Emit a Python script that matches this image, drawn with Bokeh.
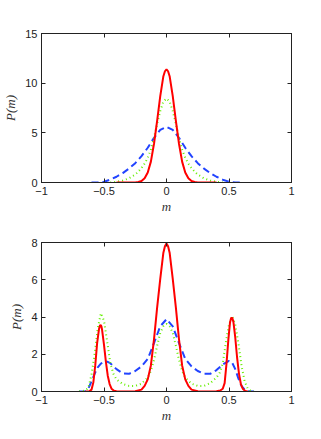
from bokeh.plotting import figure
from bokeh.layouts import column
from bokeh.models import LinearAxis, FixedTicker, Range1d, CustomLabelingPolicy
from bokeh.embed import file_html
from bokeh.resources import INLINE

# ---------------- data: top panel ----------------
top_red_x = [-0.4, -0.3, -0.25, -0.225, -0.2, -0.175, -0.15, -0.125, -0.1, -0.075, -0.05, -0.025, -0.0125, 0.0,
             0.0125, 0.025, 0.05, 0.075, 0.1, 0.125, 0.15, 0.175, 0.2, 0.225, 0.25, 0.3, 0.4]
top_red_y = [0.0, 0.0, 0.01, 0.05, 0.15, 0.42, 1.0, 2.1, 3.9, 6.2, 8.7, 10.7, 11.2, 11.4,
             11.2, 10.7, 8.7, 6.2, 3.9, 2.1, 1.0, 0.42, 0.15, 0.05, 0.01, 0.0, 0.0]

top_green_x = [-0.45, -0.4, -0.35, -0.3, -0.25, -0.225, -0.2, -0.175, -0.15, -0.125, -0.1, -0.075, -0.05, -0.025, 0.0,
               0.025, 0.05, 0.075, 0.1, 0.125, 0.15, 0.175, 0.2, 0.225, 0.25, 0.3, 0.35, 0.4, 0.45]
top_green_y = [0.0, 0.07, 0.2, 0.42, 0.8, 1.1, 1.45, 1.9, 2.5, 3.3, 4.5, 5.9, 7.2, 8.15, 8.45,
               8.15, 7.2, 5.9, 4.5, 3.3, 2.5, 1.9, 1.45, 1.1, 0.8, 0.42, 0.2, 0.07, 0.0]

top_blue_x = [-0.6, -0.55, -0.5, -0.45, -0.4, -0.35, -0.3, -0.25, -0.2, -0.15, -0.1, -0.05, 0.0,
              0.05, 0.1, 0.15, 0.2, 0.25, 0.3, 0.35, 0.4, 0.45, 0.5, 0.55, 0.6]
top_blue_y = [0.0, 0.01, 0.08, 0.28, 0.58, 0.95, 1.4, 1.95, 2.65, 3.5, 4.5, 5.3, 5.6,
              5.3, 4.5, 3.5, 2.65, 1.95, 1.4, 0.95, 0.58, 0.28, 0.08, 0.01, 0.0]

# ---------------- data: bottom panel ----------------
bot_red_x = [-0.65, -0.62, -0.6, -0.585, -0.57, -0.555, -0.54, -0.533, -0.527, -0.521, -0.515, -0.5, -0.485,
             -0.47, -0.455, -0.44, -0.42, -0.4, -0.35, -0.3, -0.25, -0.2, -0.175, -0.15, -0.125, -0.1, -0.075,
             -0.05, -0.025, -0.0125, 0.0, 0.0125, 0.025, 0.05, 0.075, 0.1, 0.125, 0.15, 0.175, 0.2, 0.25, 0.3,
             0.35, 0.4, 0.43, 0.45, 0.465, 0.48, 0.495, 0.508, 0.516, 0.522, 0.528, 0.536, 0.55, 0.565, 0.58,
             0.595, 0.61, 0.63, 0.65]
bot_red_y = [0.0, 0.0, 0.1, 0.5, 1.4, 2.6, 3.35, 3.53, 3.57, 3.5, 3.3, 2.5, 1.6,
             0.85, 0.4, 0.15, 0.04, 0.01, 0.0, 0.0, 0.01, 0.1, 0.3, 0.65, 1.4, 2.8, 4.5,
             6.05, 7.45, 7.8, 7.95, 7.8, 7.45, 6.05, 4.5, 2.8, 1.4, 0.65, 0.3, 0.1, 0.01, 0.0,
             0.0, 0.01, 0.05, 0.15, 0.45, 1.5, 2.8, 3.7, 3.92, 3.97, 3.92, 3.7, 2.9, 1.8, 0.95,
             0.4, 0.15, 0.03, 0.0]

bot_green_x = [-0.7, -0.65, -0.625, -0.6, -0.575, -0.55, -0.525, -0.5, -0.475, -0.45, -0.425, -0.4, -0.35,
               -0.3, -0.25, -0.2, -0.15, -0.125, -0.1, -0.075, -0.05, -0.025, 0.0,
               0.025, 0.05, 0.075, 0.1, 0.125, 0.15, 0.2, 0.25, 0.3, 0.35, 0.4, 0.425, 0.45, 0.475,
               0.5, 0.525, 0.55, 0.575, 0.6, 0.625, 0.65, 0.675, 0.7]
bot_green_y = [0.0, 0.05, 0.2, 0.9, 2.0, 3.4, 4.2, 3.8, 2.7, 1.55, 0.95, 0.65, 0.4,
               0.3, 0.3, 0.42, 0.75, 1.1, 1.7, 2.45, 3.15, 3.5, 3.63,
               3.5, 3.15, 2.45, 1.7, 1.1, 0.75, 0.42, 0.3, 0.3, 0.45, 0.75, 1.0, 1.5, 2.65,
               3.6, 4.05, 3.6, 2.6, 1.4, 0.55, 0.15, 0.03, 0.0]

bot_blue_x = [-0.7, -0.65, -0.625, -0.6, -0.575, -0.55, -0.525, -0.5, -0.475, -0.45, -0.4, -0.35, -0.3,
              -0.25, -0.2, -0.15, -0.1, -0.05, 0.0,
              0.05, 0.1, 0.15, 0.2, 0.25, 0.3, 0.35, 0.4, 0.45, 0.5, 0.525, 0.55, 0.575, 0.6, 0.625, 0.65, 0.7]
bot_blue_y = [0.0, 0.02, 0.15, 0.55, 0.95, 1.3, 1.5, 1.58, 1.6, 1.52, 1.2, 0.97, 0.95,
              1.1, 1.35, 1.75, 2.6, 3.5, 3.88,
              3.5, 2.6, 1.75, 1.35, 1.1, 0.95, 0.95, 1.15, 1.45, 1.65, 1.55, 1.2, 0.7, 0.3, 0.1, 0.02, 0.0]

x_ticks = [-1, -0.5, 0, 0.5, 1]
top_y_ticks = [0, 5, 10, 15]
bot_y_ticks = [0, 2, 4, 6, 8]

RED = "#ff0000"
GREEN = "#66ee00"
BLUE = "#2244ff"
AXIS_COLOR = "#222222"
TICK_FONT = "Liberation Sans"
LABEL_FONT = "Liberation Serif"


def style_axis(ax, ticks, show_labels=True):
    ax.ticker = FixedTicker(ticks=ticks)
    ax.major_tick_in = 4
    ax.major_tick_out = 0
    ax.minor_tick_line_color = None
    ax.axis_line_color = AXIS_COLOR
    ax.major_tick_line_color = AXIS_COLOR
    ax.major_label_text_font = TICK_FONT
    ax.major_label_text_font_size = "11px"
    ax.major_label_text_color = AXIS_COLOR
    ax.major_label_standoff = 4
    if not show_labels:
        ax.major_label_policy = CustomLabelingPolicy(code="if (false) { yield 0 }")
        ax.major_label_standoff = 0


def make_panel(height, border_top, border_bottom, yticks, ymax, rx, ry, gx, gy, bx, by):
    p = figure(width=321, height=height, output_backend="svg", toolbar_location=None,
               frame_width=250, frame_height=149,
               x_range=Range1d(-1, 1), y_range=Range1d(0, ymax),
               min_border_left=41, min_border_right=30,
               min_border_top=border_top, min_border_bottom=border_bottom)
    p.grid.visible = False
    p.outline_line_color = AXIS_COLOR
    p.background_fill_color = "white"
    p.border_fill_color = "white"
    style_axis(p.xaxis[0], x_ticks)
    style_axis(p.yaxis[0], yticks)
    p.xaxis[0].axis_label = "m"
    p.yaxis[0].axis_label = "P(m)"
    for ax in (p.xaxis[0], p.yaxis[0]):
        ax.axis_label_text_font = LABEL_FONT
        ax.axis_label_text_font_style = "italic"
        ax.axis_label_text_font_size = "13px"
        ax.axis_label_text_color = "#333333"
    p.xaxis[0].axis_label_standoff = 1
    p.yaxis[0].axis_label_standoff = 4
    top_ax = LinearAxis()
    style_axis(top_ax, x_ticks, show_labels=False)
    right_ax = LinearAxis()
    style_axis(right_ax, yticks, show_labels=False)
    p.add_layout(top_ax, "above")
    p.add_layout(right_ax, "right")

    p.line(bx, by, line_color=BLUE, line_width=2, line_dash="7 4")
    p.line(gx, gy, line_color=GREEN, line_width=2, line_dash="1 3")
    p.line(rx, ry, line_color=RED, line_width=2)
    return p


p1 = make_panel(215, 33, 33, top_y_ticks, 15, top_red_x, top_red_y, top_green_x, top_green_y, top_blue_x, top_blue_y)
p2 = make_panel(216, 26, 41, bot_y_ticks, 8, bot_red_x, bot_red_y, bot_green_x, bot_green_y, bot_blue_x, bot_blue_y)

layout = column(p1, p2, spacing=0)
open("out.html", "w").write(file_html(layout, INLINE))
